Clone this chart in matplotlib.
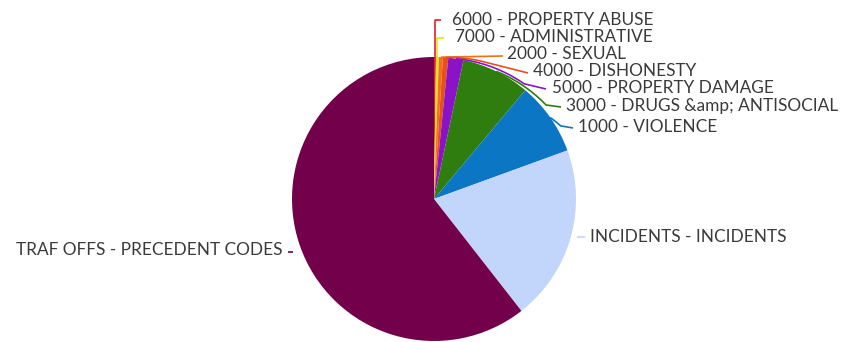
import numpy as np
import matplotlib
matplotlib.use("Agg")
import matplotlib.pyplot as plt

# ---- data (degrees of the pie) ----
labels = ["6000 - PROPERTY ABUSE", "7000 - ADMINISTRATIVE", "2000 - SEXUAL",
          "4000 - DISHONESTY", "5000 - PROPERTY DAMAGE", "3000 - DRUGS &amp; ANTISOCIAL",
          "1000 - VIOLENCE", "INCIDENTS - INCIDENTS", "TRAF OFFS - PRECEDENT CODES"]
values = [0.8, 1.2, 1.6, 2.2, 6.2, 28.0, 30.0, 72.0, 218.0]
colors = ["#E0202A", "#E6E21E", "#F07020", "#E8501A", "#8C12C8", "#2E7D0E",
          "#0B76C4", "#C2D5FB", "#73004A"]

W, H, DPI = 849, 342, 100
CX, CY, R = 434, 199, 142  # pixel layout of the pie

fig = plt.figure(figsize=(W / DPI, H / DPI), dpi=DPI)
ax = fig.add_axes([0, 0, 1, 1])

ax.pie(values, colors=colors, startangle=90, counterclock=False, radius=1,
       center=(0, 0), wedgeprops=dict(linewidth=0), frame=True)
ax.set_xlim(-CX / R, (W - CX) / R)
ax.set_ylim(-(H - CY) / R, CY / R)
ax.set_aspect("equal")
ax.axis("off")


def P(px, py):
    return ((px - CX) / R, (CY - py) / R)


def polar(deg, r=1.0):
    a = np.deg2rad(deg)
    return (r * np.sin(a), r * np.cos(a))


cum = np.cumsum([0] + values)
mids = [(cum[i] + cum[i + 1]) / 2 for i in range(len(values))]

# layout: (text anchor px, ha, path spec)
layout = [
    ((452, 20), "left", ("up", (441, 20))),
    ((455, 37), "left", ("up", (444, 38))),
    ((507, 54), "left", ("arc", None, (503, 56))),
    ((533, 71), "left", ("arc", 21, (528, 73))),
    ((552, 88), "left", ("arc", 38, (546, 89))),
    ((566, 106), "left", ("arc", 50, (561, 107))),
    ((578, 127), "left", ("arc", 60, (573, 128))),
    ((590, 237), "left", ("line", (585, 237))),
    ((282, 250), "right", ("line", (288, 252))),
]

text_color = "#3a3a3a"
for lab, col, mid, (tpos, ha, spec) in zip(labels, colors, mids, layout):
    tx, ty = P(*tpos)
    ax.text(tx, ty, lab, ha=ha, va="center", fontsize=12.4, color=text_color,
            family=["Lato", "DejaVu Sans"])
    sx, sy = polar(mid, 1.0)
    xs, ys = [sx], [sy]
    kind = spec[0]
    if kind == "up":
        ex, ey = P(*spec[1])
        xs += [sx, ex]
        ys += [ey, ey]
    elif kind == "arc":
        turn = spec[1]
        ex, ey = P(*spec[2])
        if turn is not None:
            angs = np.linspace(mid, turn, 40)
            rs = np.linspace(1.0, 1.03, 40)
            for a, rr in zip(angs, rs):
                px_, py_ = polar(a, rr)
                xs.append(px_)
                ys.append(py_)
        xs.append(ex)
        ys.append(ey)
    else:
        ex, ey = P(*spec[1])
        s2 = polar(mid, 1.05)
        xs = [s2[0], ex]
        ys = [ey, ey]
    ax.plot(xs, ys, color=col, lw=1.2, solid_capstyle="butt",
            solid_joinstyle="round", clip_on=False)

fig.savefig("out.png", dpi=DPI, facecolor="white")
